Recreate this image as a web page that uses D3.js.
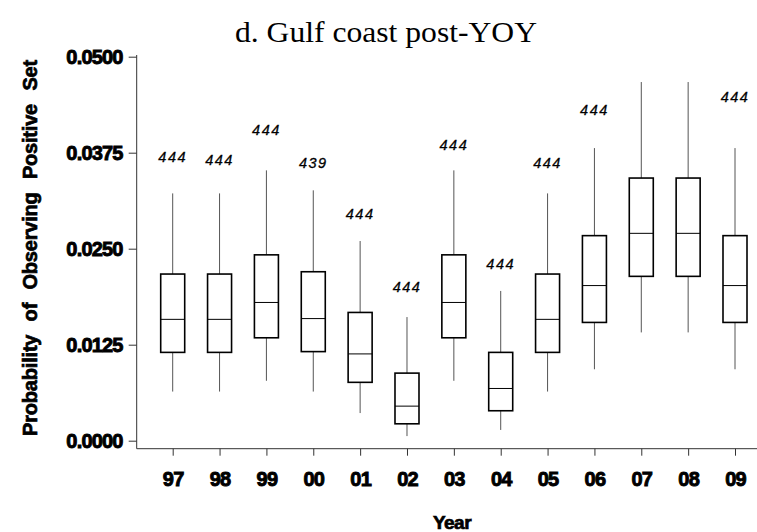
<!DOCTYPE html>
<html>
<head>
<meta charset="utf-8">
<script src="https://cdn.jsdelivr.net/npm/d3@7"></script>
<style>
  body { margin: 0; background: #fff; }
  svg { display: block; }
</style>
</head>
<body>
<div id="chart"></div>
<script>
"use strict";

const WIDTH = 757, HEIGHT = 532;

// values
var years       = ["97", "98", "99", "00", "01", "02", "03", "04", "05", "06", "07", "08", "09"];
var whiskerLow  = [0.0064, 0.0064, 0.0078, 0.0064, 0.0036, 0.0006, 0.0078, 0.0014, 0.0064, 0.0093, 0.0141, 0.0141, 0.0093];
var q1          = [0.0115, 0.0115, 0.0134, 0.0116, 0.0076, 0.0022, 0.0134, 0.0039, 0.0115, 0.0154, 0.0214, 0.0214, 0.0154];
var median      = [0.0158, 0.0158, 0.0180, 0.0159, 0.0113, 0.0045, 0.0180, 0.0068, 0.0158, 0.0202, 0.0270, 0.0270, 0.0202];
var q3          = [0.0217, 0.0217, 0.0242, 0.0220, 0.0167, 0.0088, 0.0242, 0.0115, 0.0217, 0.0267, 0.0342, 0.0342, 0.0267];
var whiskerHigh = [0.0322, 0.0322, 0.0352, 0.0326, 0.0260, 0.0161, 0.0352, 0.0195, 0.0322, 0.0381, 0.0467, 0.0467, 0.0381];
var nLabels     = ["444", "444", "444", "439", "444", "444", "444", "444", "444", "444", null, null, "444"];
var labelAt     = [0.0363, 0.0359, 0.0398, 0.0355, 0.0289, 0.0193, 0.0378, 0.0224, 0.0355, 0.0424, null, null, 0.0441];
var yTicks      = [0, 0.0125, 0.025, 0.0375, 0.05];

var data = years.map(function(y, i) {
  return { year: y, lo: whiskerLow[i], q1: q1[i], med: median[i], q3: q3[i], hi: whiskerHigh[i],
           n: nLabels[i], at: labelAt[i] };
});

var svg = d3.select("#chart").append("svg")
  .attr("width", WIDTH)
  .attr("height", HEIGHT);

var xScale = d3.scalePoint()
  .domain(years)
  .range([172.7, 735]);
var yScale = d3.scaleLinear()
  .domain([0, 0.05])
  .range([440.7, 56.7]);

var axisLeft = 136.7, axisBottom = 448.7, boxW = 24;
var sans = "Liberation Sans, Arial, sans-serif";

// title
svg.append("text")
  .attr("x", 386)
  .attr("y", 42)
  .attr("text-anchor", "middle")
  .attr("font-family", "Liberation Serif, Times New Roman, serif")
  .attr("font-size", 30)
  .attr("textLength", 302)
  .attr("lengthAdjust", "spacingAndGlyphs")
  .text("d. Gulf coast post-YOY");

// y axis
var gy = svg.append("g")
  .attr("transform", "translate(" + axisLeft + ",0)")
  .call(d3.axisLeft(yScale).tickValues(yTicks).tickFormat(d3.format(".4f")).tickSize(8).tickPadding(6));
gy.select(".domain").remove();
gy.selectAll(".tick line").attr("stroke", "#333");
gy.selectAll(".tick text")
  .attr("font-family", sans)
  .attr("font-weight", "bold")
  .attr("font-size", 20)
  .attr("letter-spacing", -0.8)
  .attr("fill", "#000")
  .attr("stroke", "#000")
  .attr("stroke-width", 0.9);

// x axis
var gx = svg.append("g")
  .attr("transform", "translate(0," + axisBottom + ")")
  .call(d3.axisBottom(xScale).tickSize(7).tickPadding(16));
gx.select(".domain").remove();
gx.selectAll(".tick line").attr("stroke", "#333");
gx.selectAll(".tick text")
  .attr("font-family", sans)
  .attr("font-weight", "bold")
  .attr("font-size", 20)
  .attr("letter-spacing", -0.8)
  .attr("fill", "#000")
  .attr("stroke", "#000")
  .attr("stroke-width", 0.9);

// axis lines
svg.append("line")
  .attr("x1", axisLeft).attr("x2", axisLeft)
  .attr("y1", 55).attr("y2", axisBottom)
  .attr("stroke", "#333");
svg.append("line")
  .attr("x1", axisLeft).attr("x2", WIDTH)
  .attr("y1", axisBottom).attr("y2", axisBottom)
  .attr("stroke", "#333");

// axis titles
svg.append("text")
  .attr("transform", "translate(37," + 248 + ") rotate(-90)")
  .attr("text-anchor", "middle")
  .attr("font-family", sans)
  .attr("font-weight", "bold")
  .attr("font-size", 20)
  .attr("word-spacing", 8)
  .attr("letter-spacing", -0.2)
  .attr("stroke", "#000")
  .attr("stroke-width", 0.7)
  .text("Probability of Observing Positive Set");

svg.append("text")
  .attr("x", 452)
  .attr("y", 529)
  .attr("text-anchor", "middle")
  .attr("font-family", sans)
  .attr("font-weight", "bold")
  .attr("font-size", 19)
  .attr("letter-spacing", -0.5)
  .attr("stroke", "#000")
  .attr("stroke-width", 0.7)
  .text("Year");

// boxes
var boxes = svg.append("g").selectAll("g")
  .data(data)
  .join("g")
  .attr("transform", function(d) { return "translate(" + xScale(d.year) + ",0)"; });

boxes.append("line")
  .attr("x1", 0).attr("x2", 0)
  .attr("y1", function(d) { return yScale(d.hi); })
  .attr("y2", function(d) { return yScale(d.q3); })
  .attr("stroke", "#555");
boxes.append("line")
  .attr("x1", 0).attr("x2", 0)
  .attr("y1", function(d) { return yScale(d.q1); })
  .attr("y2", function(d) { return yScale(d.lo); })
  .attr("stroke", "#555");
boxes.append("rect")
  .attr("x", -boxW / 2)
  .attr("width", boxW)
  .attr("y", function(d) { return yScale(d.q3); })
  .attr("height", function(d) { return yScale(d.q1) - yScale(d.q3); })
  .attr("fill", "#fff")
  .attr("stroke", "#000")
  .attr("stroke-width", 1.6);
boxes.append("line")
  .attr("x1", -boxW / 2).attr("x2", boxW / 2)
  .attr("y1", function(d) { return yScale(d.med); })
  .attr("y2", function(d) { return yScale(d.med); })
  .attr("stroke", "#000");

boxes.filter(function(d) { return d.n !== null; })
  .append("text")
  .attr("y", function(d) { return yScale(d.at); })
  .attr("text-anchor", "middle")
  .attr("font-family", sans)
  .attr("font-style", "italic")
  .attr("font-size", 14.5)
  .attr("letter-spacing", 1.5)
  .attr("stroke", "#000")
  .attr("stroke-width", 0.3)
  .text(function(d) { return d.n; });
</script>
</body>
</html>
